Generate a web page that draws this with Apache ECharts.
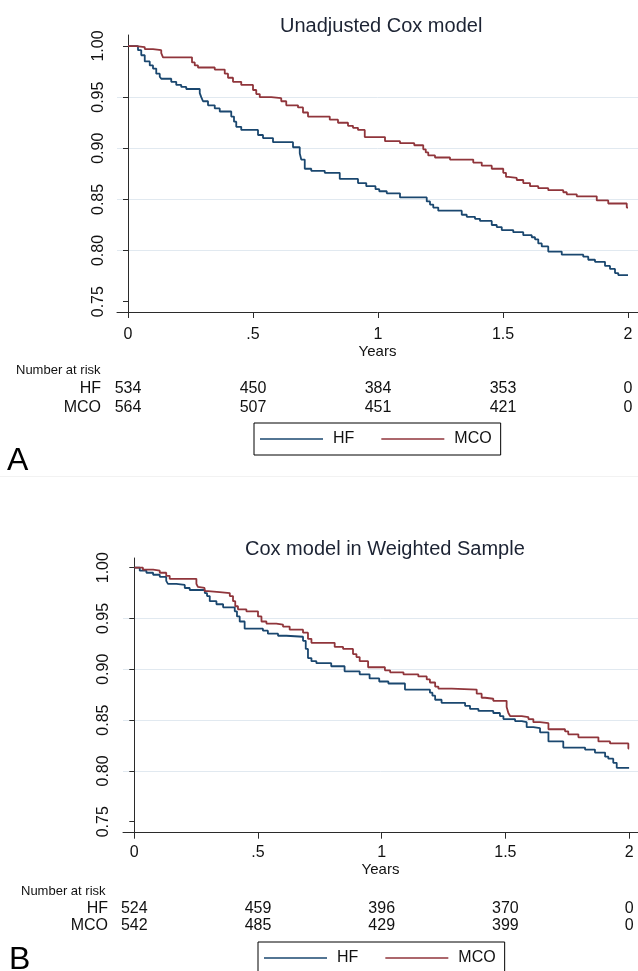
<!DOCTYPE html>
<html>
<head>
<meta charset="utf-8">
<script src="https://cdn.jsdelivr.net/npm/echarts@6/dist/echarts.min.js"></script>
<style>
html, body { margin: 0; padding: 0; background: #fff; }
#main { width: 638px; height: 971px; }
</style>
</head>
<body>
<div id="main"></div>
<script>
// ticks
const xTicks = [0, 0.5, 1, 1.5, 2];
const xTickLabels = ['0', '.5', '1', '1.5', '2'];
const yTicks = [0.75, 0.80, 0.85, 0.90, 0.95, 1.00];

// Panel A - unadjusted, step points (years, survival)
const hfTimeA = [0, 0.04, 0.053, 0.067, 0.087, 0.1, 0.113, 0.127, 0.133, 0.173, 0.193, 0.213, 0.233, 0.287, 0.293, 0.3, 0.32, 0.347, 0.367, 0.413, 0.424, 0.433, 0.453, 0.52, 0.54, 0.58, 0.66, 0.687, 0.693, 0.707, 0.733, 0.787, 0.847, 0.92, 0.953, 0.99, 1.005, 1.035, 1.088, 1.195, 1.208, 1.221, 1.241, 1.335, 1.355, 1.388, 1.408, 1.455, 1.475, 1.495, 1.541, 1.581, 1.615, 1.628, 1.641, 1.655, 1.681, 1.735, 1.821, 1.841, 1.868, 1.908, 1.928, 1.948, 1.961, 2.0];
const hfSurvA = [1.0, 0.996, 0.991, 0.985, 0.981, 0.978, 0.973, 0.970, 0.968, 0.965, 0.962, 0.960, 0.958, 0.954, 0.950, 0.946, 0.942, 0.939, 0.936, 0.931, 0.926, 0.921, 0.918, 0.913, 0.910, 0.906, 0.901, 0.895, 0.889, 0.880, 0.878, 0.876, 0.870, 0.866, 0.863, 0.860, 0.858, 0.856, 0.852, 0.848, 0.845, 0.842, 0.839, 0.835, 0.833, 0.831, 0.829, 0.825, 0.823, 0.820, 0.818, 0.815, 0.813, 0.811, 0.807, 0.804, 0.799, 0.796, 0.794, 0.791, 0.789, 0.785, 0.782, 0.778, 0.776, 0.776];
const mcoTimeA = [0, 0.033, 0.067, 0.1, 0.133, 0.14, 0.256, 0.267, 0.28, 0.347, 0.387, 0.4, 0.42, 0.453, 0.5, 0.513, 0.527, 0.573, 0.613, 0.633, 0.68, 0.7, 0.72, 0.807, 0.84, 0.88, 0.9, 0.92, 0.947, 1.028, 1.088, 1.145, 1.181, 1.191, 1.201, 1.228, 1.288, 1.381, 1.415, 1.455, 1.501, 1.512, 1.521, 1.555, 1.581, 1.608, 1.641, 1.681, 1.741, 1.755, 1.795, 1.875, 1.921, 1.995, 2.0];
const mcoSurvA = [1.0, 0.999, 0.997, 0.996, 0.993, 0.989, 0.984, 0.981, 0.979, 0.977, 0.973, 0.969, 0.965, 0.962, 0.957, 0.953, 0.950, 0.949, 0.946, 0.942, 0.940, 0.935, 0.931, 0.928, 0.925, 0.922, 0.920, 0.918, 0.911, 0.907, 0.905, 0.903, 0.899, 0.896, 0.893, 0.891, 0.889, 0.886, 0.883, 0.880, 0.876, 0.872, 0.871, 0.869, 0.866, 0.863, 0.861, 0.859, 0.857, 0.855, 0.853, 0.849, 0.846, 0.842, 0.842];

// Panel B - weighted sample
const hfTimeB = [0, 0.022, 0.049, 0.076, 0.103, 0.129, 0.136, 0.17, 0.204, 0.224, 0.285, 0.294, 0.305, 0.332, 0.359, 0.406, 0.415, 0.426, 0.446, 0.52, 0.54, 0.581, 0.615, 0.682, 0.693, 0.702, 0.716, 0.736, 0.796, 0.85, 0.911, 0.951, 0.99, 1.027, 1.094, 1.195, 1.205, 1.216, 1.242, 1.337, 1.357, 1.391, 1.451, 1.478, 1.492, 1.539, 1.566, 1.586, 1.613, 1.64, 1.674, 1.734, 1.822, 1.862, 1.903, 1.916, 1.936, 1.95, 2.0];
const hfSurvB = [1.0, 0.997, 0.995, 0.993, 0.991, 0.987, 0.984, 0.983, 0.980, 0.978, 0.975, 0.972, 0.967, 0.964, 0.961, 0.957, 0.952, 0.947, 0.940, 0.938, 0.935, 0.933, 0.932, 0.928, 0.920, 0.911, 0.908, 0.906, 0.903, 0.898, 0.895, 0.891, 0.888, 0.886, 0.880, 0.877, 0.874, 0.870, 0.867, 0.864, 0.861, 0.859, 0.857, 0.854, 0.851, 0.849, 0.848, 0.843, 0.842, 0.838, 0.829, 0.823, 0.821, 0.818, 0.814, 0.812, 0.808, 0.803, 0.803];
const mcoTimeB = [0, 0.035, 0.076, 0.103, 0.129, 0.143, 0.251, 0.257, 0.264, 0.284, 0.298, 0.345, 0.386, 0.399, 0.408, 0.419, 0.453, 0.5, 0.514, 0.534, 0.574, 0.601, 0.628, 0.682, 0.702, 0.716, 0.81, 0.844, 0.884, 0.898, 0.911, 0.945, 1.013, 1.034, 1.088, 1.148, 1.182, 1.195, 1.216, 1.229, 1.283, 1.384, 1.404, 1.418, 1.451, 1.505, 1.512, 1.519, 1.566, 1.593, 1.613, 1.64, 1.674, 1.741, 1.754, 1.795, 1.876, 1.923, 1.997, 2.0];
const mcoSurvB = [1.0, 0.998, 0.997, 0.995, 0.992, 0.989, 0.984, 0.981, 0.980, 0.977, 0.976, 0.975, 0.972, 0.967, 0.962, 0.959, 0.957, 0.952, 0.947, 0.945, 0.944, 0.942, 0.939, 0.936, 0.930, 0.926, 0.922, 0.920, 0.915, 0.912, 0.908, 0.902, 0.899, 0.897, 0.895, 0.893, 0.890, 0.887, 0.883, 0.881, 0.880, 0.876, 0.872, 0.871, 0.869, 0.863, 0.857, 0.854, 0.853, 0.851, 0.848, 0.847, 0.841, 0.839, 0.836, 0.833, 0.829, 0.827, 0.822, 0.822];

// number at risk
const riskHfA = [534, 450, 384, 353, 0];
const riskMcoA = [564, 507, 451, 421, 0];
const riskHfB = [524, 459, 396, 370, 0];
const riskMcoB = [542, 485, 429, 399, 0];

const HF_COLOR = '#1a476f';
const MCO_COLOR = '#90353b';
const AXIS_COLOR = '#2b2b2b';
const TEXT_COLOR = '#111';
const FONT = 'Liberation Sans, Arial, sans-serif';

function zip(a, b) {
    return a.map((t, i) => [t, b[i]]);
}
function tickIndex(v) {
    for (let i = 0; i < xTicks.length; i++) {
        if (Math.abs(xTicks[i] - v) < 1e-6) return i;
    }
    return -1;
}

// layout of the two panels
const panels = [
    { left: 117, top: 35, height: 277, xMin: -0.044, xMax: 2.04, yMin: 0.7399, yMax: 1.0108,
      labelMargin: 15, nameGap: 32, yLabelMargin: 10, rowGap: 16, offHf: 77, offMco: 95.5,
      risk: [riskHfA, riskMcoA] },
    { left: 123, top: 558, height: 274.7, xMin: -0.0457, xMax: 2.036, yMin: 0.7392, yMax: 1.0095,
      labelMargin: 12, nameGap: 30, yLabelMargin: 11, rowGap: 15, offHf: 76, offMco: 93.3,
      risk: [riskHfB, riskMcoB] }
];

const grids = [], xAxes = [], yAxes = [];
panels.forEach((p, gi) => {
    grids.push({ left: p.left, top: p.top, right: 0, height: p.height, outerBoundsMode: 'none' });
    xAxes.push({
        type: 'value', gridIndex: gi, min: p.xMin, max: p.xMax,
        axisLine: { show: true, lineStyle: { color: AXIS_COLOR, width: 1 } },
        axisTick: { show: true, length: 6, customValues: xTicks, lineStyle: { color: AXIS_COLOR } },
        axisLabel: { customValues: xTicks, margin: p.labelMargin, fontSize: 16, fontFamily: FONT, color: TEXT_COLOR,
            formatter: v => xTickLabels[tickIndex(v)] },
        splitLine: { show: false },
        name: 'Years', nameLocation: 'middle', nameGap: p.nameGap, nameMoveOverlap: false,
        nameTextStyle: { fontSize: 15, fontFamily: FONT, color: TEXT_COLOR }
    });
    ['HF', 'MCO'].forEach((nm, k) => {
        const risks = p.risk[k];
        xAxes.push({
            type: 'value', gridIndex: gi, min: p.xMin, max: p.xMax, position: 'bottom',
            offset: k === 0 ? p.offHf : p.offMco,
            axisLine: { show: false }, axisTick: { show: false }, splitLine: { show: false },
            axisLabel: { customValues: xTicks, margin: 0, verticalAlign: 'middle', fontSize: 16, fontFamily: FONT,
                color: TEXT_COLOR, formatter: v => String(risks[tickIndex(v)]) },
            name: nm, nameLocation: 'start', nameGap: p.rowGap, nameMoveOverlap: false,
            nameTextStyle: { fontSize: 16, fontFamily: FONT, color: TEXT_COLOR, align: 'right', verticalAlign: 'middle' }
        });
    });
    yAxes.push({
        type: 'value', gridIndex: gi, min: p.yMin, max: p.yMax,
        axisLine: { show: true, lineStyle: { color: AXIS_COLOR, width: 1 } },
        axisTick: { show: true, length: 5, customValues: yTicks, lineStyle: { color: AXIS_COLOR } },
        axisLabel: { customValues: yTicks, rotate: 90, margin: p.yLabelMargin, fontSize: 16, fontFamily: FONT,
            color: TEXT_COLOR, formatter: v => v.toFixed(2) },
        splitLine: { show: true, showMinLine: false, showMaxLine: false, lineStyle: { color: '#e1e9f0', width: 1 } }
    });
});

function curve(name, color, data, gi) {
    return {
        name: name, type: 'line', step: 'end', xAxisIndex: gi * 3, yAxisIndex: gi,
        data: data, symbol: 'none', showSymbol: false,
        lineStyle: { color: color, width: 1.8 }, itemStyle: { color: color },
        emphasis: { disabled: true }, animation: false
    };
}

const legendBase = {
    data: ['HF', 'MCO'], orient: 'horizontal', icon: 'rect',
    borderColor: '#000', borderWidth: 1, padding: [8, 9, 8, 6],
    itemWidth: 63, itemHeight: 1.5, itemGap: 27,
    textStyle: { fontSize: 16, fontFamily: FONT, color: TEXT_COLOR, padding: [0, 0, 0, 5] },
    selectedMode: false
};

const chart = echarts.init(document.getElementById('main'), null, { renderer: 'canvas' });
chart.setOption({
    animation: false,
    backgroundColor: '#fff',
    title: [
        { text: 'Unadjusted Cox model', left: 275, top: 11,
          textStyle: { fontSize: 20, fontWeight: 'normal', fontFamily: FONT, color: '#1c2333' } },
        { text: 'Cox model in Weighted Sample', left: 240, top: 534,
          textStyle: { fontSize: 20, fontWeight: 'normal', fontFamily: FONT, color: '#1c2333' } }
    ],
    legend: [
        Object.assign({}, legendBase, { left: 254, top: 423 }),
        Object.assign({}, legendBase, { left: 258, top: 942 })
    ],
    grid: grids,
    xAxis: xAxes,
    yAxis: yAxes,
    series: [
        curve('HF', HF_COLOR, zip(hfTimeA, hfSurvA), 0),
        curve('MCO', MCO_COLOR, zip(mcoTimeA, mcoSurvA), 0),
        curve('HF', HF_COLOR, zip(hfTimeB, hfSurvB), 1),
        curve('MCO', MCO_COLOR, zip(mcoTimeB, mcoSurvB), 1)
    ],
    graphic: [
        { type: 'text', left: 16, top: 364, style: { text: 'Number at risk', fontSize: 13, fontFamily: FONT, fill: TEXT_COLOR } },
        { type: 'text', left: 21, top: 885, style: { text: 'Number at risk', fontSize: 13, fontFamily: FONT, fill: TEXT_COLOR } },
        { type: 'text', left: 7, top: 445, style: { text: 'A', fontSize: 32, fontFamily: FONT, fill: '#000' } },
        { type: 'text', left: 9, top: 944, style: { text: 'B', fontSize: 32, fontFamily: FONT, fill: '#000' } },
        { type: 'line', shape: { x1: 0, y1: 476.5, x2: 638, y2: 476.5 }, style: { stroke: '#f2f2f2', lineWidth: 1 } }
    ]
});
</script>
</body>
</html>
